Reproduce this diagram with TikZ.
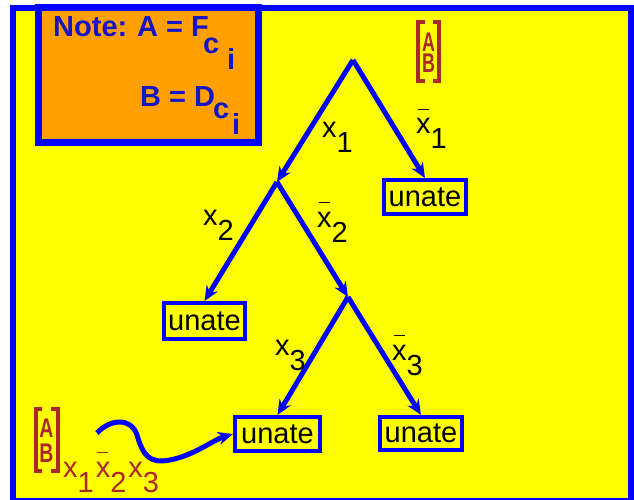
\documentclass[tikz,border=0pt]{standalone}
\usepackage{fontspec}
\setmainfont{Liberation Sans}
\usetikzlibrary{arrows.meta}
\definecolor{bgyellow}{RGB}{255,255,0}
\definecolor{frameblue}{RGB}{0,0,255}
\definecolor{noteorange}{RGB}{255,160,0}
\definecolor{notetext}{RGB}{20,20,200}
\definecolor{brown}{RGB}{170,40,40}
\newcommand\xb{\makebox[0pt][l]{\hspace{1.5pt}\raisebox{24pt}{\rule{11pt}{1.4pt}}}x}
\newcommand\sbs[1]{\raisebox{-15pt}{#1}}
\begin{document}
\begin{tikzpicture}[x=1pt,y=-1pt,
  treeline/.style={draw=frameblue,line width=5pt,-{Stealth[length=15pt,width=13pt]}},
  ubox/.style={draw=frameblue,line width=4pt,inner sep=0pt,font=\fontsize{29}{30}\selectfont,text=black},
  lab/.style={anchor=base west,inner sep=0pt,font=\fontsize{29}{30}\selectfont,text=black},
  notefont/.style={anchor=base west,inner sep=0pt,font=\bfseries\fontsize{29}{30}\selectfont,text=notetext},
  bracketline/.style={draw=brown,line width=4pt},
  abletter/.style={anchor=base,inner sep=0pt,font=\bfseries\fontsize{27}{28}\selectfont,text=brown}
]
\useasboundingbox (0,0) rectangle (634,500);
\fill[white] (0,0) rectangle (634,500);
% outer frame
\filldraw[fill=bgyellow,draw=frameblue,line width=6pt] (13,8) rectangle (631,501);
% note box
\filldraw[fill=noteorange,draw=frameblue,line width=7pt] (38.5,7.5) rectangle (258.5,142.5);
\node[notefont] (note) at (53,37) {Note:};
\node[notefont] (aeq) at (137,37) {A = F};
\node[notefont] (ac) at (203,54) {c};
\node[notefont] (ai) at (227,70) {i};
\node[notefont] (beq) at (140,107) {B = D};
\node[notefont] (bc) at (213,118) {c};
\node[notefont] (bi) at (232,135) {i};
% tree points
\coordinate (root) at (353,60);
\coordinate (n1) at (277,182);
\coordinate (n2) at (348,297);
% unate boxes
\node[ubox,minimum width=82pt,minimum height=34pt] (u1) at (425,197) {unate};
\node[ubox,minimum width=81pt,minimum height=36pt] (u2) at (204.5,321) {unate};
\node[ubox,minimum width=85pt,minimum height=34pt] (u3) at (277.5,434) {unate};
\node[ubox,minimum width=82pt,minimum height=33pt] (u4) at (421,433.5) {unate};
% edges
\draw[treeline] (root) -- (n1);
\draw[treeline] (root) -- (u1.north);
\draw[treeline] (n1) -- (u2.north);
\draw[treeline] (n1) -- (n2);
\draw[treeline] (n2) -- (u3.north);
\draw[treeline] (n2) -- (u4.north);
% labels
\node[lab] (l1) at (322,138) {x\sbs{1}};
\node[lab] (lb1) at (416,134) {\xb\sbs{1}};
\node[lab] (l2) at (203,225) {x\sbs{2}};
\node[lab] (lb2) at (317,227) {\xb\sbs{2}};
\node[lab] (l3) at (275,355) {x\sbs{3}};
\node[lab] (lb3) at (392,360) {\xb\sbs{3}};
% top AB vector
\draw[bracketline] (425,22) -- (418,22) -- (418,81) -- (425,81);
\draw[bracketline] (433,22) -- (439,22) -- (439,81) -- (433,81);
\node[abletter] (ta) at (428.5,52) {\scalebox{0.66}[1]{A}};
\node[abletter] (tb) at (428.5,73) {\scalebox{0.66}[1]{B}};
% bottom AB vector
\draw[bracketline] (42,409) -- (35.5,409) -- (35.5,471) -- (42,471);
\draw[bracketline] (51,409) -- (57.5,409) -- (57.5,471) -- (51,471);
\node[abletter] (ba) at (46.5,437) {\scalebox{0.72}[1]{A}};
\node[abletter] (bb) at (46.5,462) {\scalebox{0.72}[1]{B}};
\node[lab,text=brown] (cube) at (63,477) {x\sbs{1}\kern2pt\xb\sbs{2}\kern2pt x\sbs{3}};
% curved connector
\coordinate (cs) at (97,433);
\draw[treeline] (cs) .. controls (110,419) and (131,417) .. (137,435)
  .. controls (143,455) and (149,464) .. (170,460)
  .. controls (195,455) and (213,440) .. (u3.west);
\end{tikzpicture}
\end{document}
